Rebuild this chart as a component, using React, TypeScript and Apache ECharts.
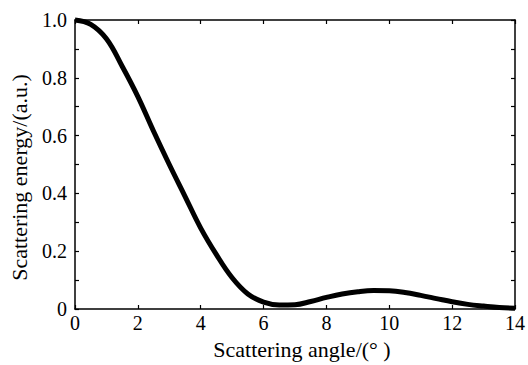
import React, { useEffect, useRef } from "react";
import * as echarts from "echarts";

const angles = [0, 0.5, 1, 1.5, 2, 2.5, 3, 3.5, 4, 4.5, 5, 5.5, 6, 6.5, 7, 7.5, 8, 8.5, 9, 9.5, 10, 10.5, 11, 11.5, 12, 12.5, 13, 13.5, 14];
const energy = [1.0, 0.985, 0.935, 0.84, 0.735, 0.615, 0.5, 0.39, 0.28, 0.188, 0.108, 0.052, 0.024, 0.014, 0.015, 0.026, 0.04, 0.052, 0.06, 0.064, 0.063, 0.057, 0.047, 0.036, 0.025, 0.016, 0.01, 0.005, 0.003];
const xTitle = "Scattering angle/(° )";
const yTitle = "Scattering energy/(a.u.)";

const FONT = "'Liberation Serif', 'Times New Roman', serif";

export default function App() {
  const ref = useRef<HTMLDivElement>(null);
  useEffect(() => {
    const chart = echarts.init(ref.current!, null, { renderer: "svg" });
    const axisLine = { show: true, onZero: false, lineStyle: { color: "#000", width: 1.5 } };
    const tick = { show: true, inside: true, length: 4, lineStyle: { color: "#000", width: 1.2 } };
    const labelStyle = { color: "#000", fontFamily: FONT, fontSize: 20 };
    chart.setOption({
      animation: false,
      backgroundColor: "#fff",
      textStyle: { fontFamily: FONT },
      grid: { left: 74, right: 11, top: 20, bottom: 53, containLabel: false },
      xAxis: [
        {
          type: "value",
          min: 0,
          max: 14,
          interval: 2,
          position: "bottom",
          name: xTitle,
          nameLocation: "middle",
          nameGap: 29,
          nameTextStyle: { color: "#000", fontFamily: FONT, fontSize: 22, padding: [0, 0, 0, 14] },
          axisLine,
          axisTick: tick,
          axisLabel: { ...labelStyle, margin: 4 },
          splitLine: { show: false },
        },
        {
          type: "value",
          min: 0,
          max: 14,
          interval: 2,
          position: "top",
          axisLine,
          axisTick: tick,
          axisLabel: { show: false },
          splitLine: { show: false },
        },
      ],
      yAxis: [
        {
          type: "value",
          min: 0,
          max: 1,
          interval: 0.2,
          position: "left",
          name: yTitle,
          nameLocation: "middle",
          nameGap: 45,
          nameTextStyle: { color: "#000", fontFamily: FONT, fontSize: 22, padding: [0, 26, 0, 0] },
          axisLine,
          axisTick: tick,
          minorTick: { show: true, splitNumber: 2, length: 4, lineStyle: { color: "#000", width: 1.2 } },
          axisLabel: {
            ...labelStyle,
            margin: 8,
            formatter: (v: number) => (v === 0 ? "0" : v.toFixed(1)),
          },
          splitLine: { show: false },
          minorSplitLine: { show: false },
        },
        {
          type: "value",
          min: 0,
          max: 1,
          interval: 0.2,
          position: "right",
          axisLine,
          axisTick: tick,
          minorTick: { show: true, splitNumber: 2, length: 4, lineStyle: { color: "#000", width: 1.2 } },
          axisLabel: { show: false },
          splitLine: { show: false },
        },
      ],
      series: [
        {
          type: "line",
          data: angles.map((a, i) => [a, energy[i]]),
          smooth: 0.4,
          symbol: "none",
          lineStyle: { color: "#000", width: 5 },
          clip: false,
        },
      ],
    });
    return () => chart.dispose();
  }, []);
  return (
    <div
      ref={ref}
      style={{ position: "fixed", left: 0, top: 0, width: 528, height: 365, background: "#fff" }}
    />
  );
}
